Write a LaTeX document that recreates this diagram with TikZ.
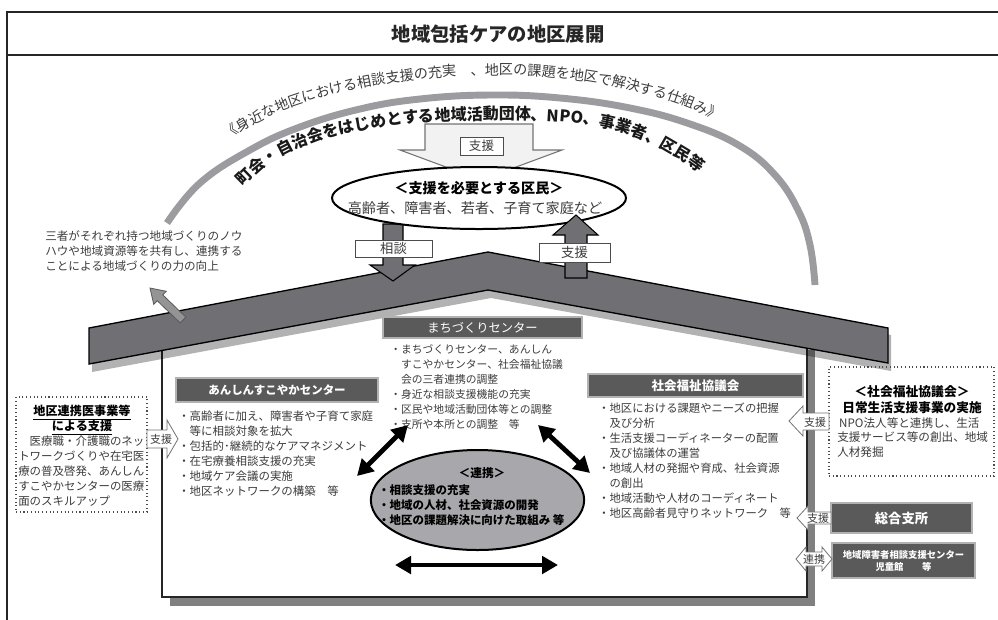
\documentclass[tikz,border=0pt]{standalone}
\usepackage{fontspec}
\setmainfont{Noto Sans CJK JP}
\usetikzlibrary{decorations.text,shapes.geometric,arrows.meta}
\definecolor{roofgray}{HTML}{707074}
\definecolor{hdrgray}{HTML}{5A5A5A}
\definecolor{arcgray}{HTML}{9C9CA0}
\definecolor{txtgray}{HTML}{3C3C3C}
\definecolor{ellgray}{HTML}{A8A8AC}
\definecolor{lightfill}{HTML}{F2F2F2}
\tikzset{
 lbl/.style={draw=black!70, fill=white, line width=0.6pt, inner sep=0pt, text=txtgray},
 hdr/.style={draw=black!30, fill=hdrgray, line width=0.8pt, text=white, inner sep=0pt},
 lst/.style={anchor=north west, align=left, inner sep=0pt, text=txtgray, font=\fontsize{8.6pt}{11.25pt}\selectfont},
 dbl/.style={line width=3.6pt, {Triangle[length=12pt,width=13pt]}-{Triangle[length=12pt,width=13pt]}},
 dotbox/.style={draw=black!70, dotted, line width=0.8pt, inner sep=0pt},
 blockw/.style={fill=white, draw=black!55, line width=0.6pt},
 sm/.style={font=\fontsize{8.2pt}{9pt}\selectfont, text=txtgray, inner sep=0pt}
}
\begin{document}
\begin{tikzpicture}[x=0.75pt,y=-0.75pt]
\useasboundingbox (0,0) rectangle (998,619);
% frame
\draw[line width=1.4pt, black!85] (7,625) -- (7,12) -- (1000,12);
\draw[line width=1.4pt, black!85] (7,55) -- (1000,55);
\node[font=\bfseries\fontsize{14.5pt}{16pt}\selectfont, text=black!85] (title) at (498,34) {地域包括ケアの地区展開};
% big arc
\draw[arcgray, line width=5.2pt] plot[smooth, tension=0.7] coordinates {(167,223) (200,183) (250,150) (300,127) (360,109) (420,99) (490,95) (560,98) (630,108) (690,124) (740,146) (775,175) (798,210) (810,245) (815,285)};
\path[decorate, decoration={text along path, text color=txtgray, text={|\fontsize{10.6pt}{11pt}\selectfont|《身近な地区における相談支援の充実　、地区の課題を地区で解決する仕組み》}}] plot[smooth, tension=0.7] coordinates {(228,140) (260,121) (300,104) (360,88) (420,79) (490,75) (560,78) (630,90) (690,108) (735,132) (770,160) (790,185)};
% house shadow and walls
\draw[black!50, line width=5.5pt] (170,602) -- (811,602) -- (811,350);
\draw[line width=1.3pt, black!85] (162,345) -- (162,597) -- (807,597) -- (807,340);
% roof
\fill[black, opacity=0.3] (92,335) -- (491,259) -- (891,335) -- (891,371) -- (491,298) -- (92,372) -- cycle;
\draw[fill=roofgray, line width=1pt] (89,328) -- (488,252) -- (888,328) -- (888,363) -- (488,290) -- (89,364) -- cycle;
% up-left gray arrow
\draw[fill=black!42, draw=black!65, line width=0.6pt] (185.8,317.1) -- (162.8,294.9) -- (166.3,291.3) -- (150,288) -- (153.7,304.3) -- (157.2,300.7) -- (180.2,322.9) -- cycle;
% top support arrow
\draw[fill=lightfill, draw=black!55, line width=0.8pt] (425,124) -- (533,124) -- (533,150) -- (562,150) -- (481,180) -- (400,150) -- (425,150) -- cycle;
\node[lbl, minimum width=32.25pt, minimum height=13.5pt, font=\fontsize{9.4pt}{10pt}\selectfont] (shien1) at (481.5,146) {支援};
% inner arc text
\path[decorate, decoration={text along path, text color=black!90, text={|\bfseries\fontsize{12pt}{12pt}\selectfont|町会・自治会をはじめとする地域活動団体、NPO、事業者、区民等}}] plot[smooth, tension=0.7] coordinates {(243,187) (268,165) (303,146) (352,132) (411,123) (481,120) (546,121) (601,127) (641,139) (671,154) (701,174) (721,195) (741,220)};
% soudan arrow
\draw[fill=roofgray, line width=0.8pt] (383,224) -- (403,224) -- (403,265) -- (415,265) -- (393,281) -- (370,265) -- (383,265) -- cycle;
\node[lbl, minimum width=57.75pt, minimum height=12.75pt, font=\fontsize{10pt}{10pt}\selectfont] (soudan) at (393.5,248.5) {相談};
% residents ellipse
\node[ellipse, draw, line width=1.5pt, fill=white, minimum width=220.5pt, minimum height=46.5pt] (kumin) at (479,198) {};
\node[font=\bfseries\fontsize{10.6pt}{12pt}\selectfont] (kumint) at (479,188) {＜支援を必要とする区民＞};
\node[font=\fontsize{10.6pt}{12pt}\selectfont, text=txtgray] (kumins) at (475,208) {高齢者、障害者、若者、子育て家庭など};
% support up arrow
\draw[fill=roofgray, line width=0.8pt] (565,278) -- (565,235) -- (553,235) -- (576,215) -- (598,235) -- (587,235) -- (587,278) -- cycle;
\node[lbl, minimum width=53.25pt, minimum height=14.25pt, font=\fontsize{10pt}{10pt}\selectfont] (shien2) at (574.5,252.5) {支援};
% left text
\node[lst, font=\fontsize{8.7pt}{11.25pt}\selectfont] (sansha) at (45,230) {三者がそれぞれ持つ地域づくりのノウ\\ハウや地域資源等を共有し、連携する\\ことによる地域づくりの力の向上};
% headers
\node[hdr, minimum width=151.5pt, minimum height=18pt, font=\bfseries\fontsize{8.6pt}{10pt}\selectfont] (anshin) at (277,390) {あんしんすこやかセンター};
\node[hdr, minimum width=149.25pt, minimum height=15.75pt, font=\fontsize{9.2pt}{10pt}\selectfont] (machi) at (482.5,327.5) {まちづくりセンター};
\node[hdr, minimum width=161.25pt, minimum height=17.25pt, font=\bfseries\fontsize{9.4pt}{10pt}\selectfont] (shakyo) at (695.5,385.5) {社会福祉協議会};
% lists
\node[lst] (anshinl) at (178,411) {・高齢者に加え、障害者や子育て家庭\\\phantom{・}等に相談対象を拡大\\・包括的･継続的なケアマネジメント\\・在宅療養相談支援の充実\\・地域ケア会議の実施\\・地区ネットワークの構築　等};
\node[lst, font=\fontsize{8.1pt}{11.25pt}\selectfont] (machil) at (390,344) {・まちづくりセンター、あんしん\\\phantom{・}すこやかセンター、社会福祉協議\\\phantom{・}会の三者連携の調整\\・身近な相談支援機能の充実\\・区民や地域活動団体等との調整\\・支所や本所との調整　等};
\node[lst, font=\fontsize{8.5pt}{11.25pt}\selectfont] (shakyol) at (598,403) {・地区における課題やニーズの把握\\\phantom{・}及び分析\\・生活支援コーディネーターの配置\\\phantom{・}及び協議体の運営\\・地域人材の発掘や育成、社会資源\\\phantom{・}の創出\\・地域活動や人材のコーディネート\\・地区高齢者見守りネットワーク　等};
% renkei ellipse
\node[ellipse, draw, line width=1.5pt, fill=ellgray, minimum width=160pt, minimum height=75pt] (renkei) at (477.5,500) {};
\node[font=\bfseries\fontsize{8.8pt}{10pt}\selectfont] (renkeit) at (482,473) {＜連携＞};
\node[lst, text=black, font=\bfseries\fontsize{8.6pt}{11.25pt}\selectfont] (renkeil) at (378,484) {・相談支援の充実\\・地域の人材、社会資源の開発\\・地区の課題解決に向けた取組み 等};
% black double arrows
\coordinate (a1s) at (357,476); \coordinate (a1e) at (408,425);
\coordinate (a2s) at (538,425); \coordinate (a2e) at (590,473);
\coordinate (a3s) at (395,565); \coordinate (a3e) at (558,565);
\draw[dbl] (a1s) -- (a1e);
\draw[dbl] (a2s) -- (a2e);
\draw[dbl] (a3s) -- (a3e);
% left dotted box
\node[dotbox, minimum width=98.25pt, minimum height=86.25pt] (renkeii) at (81.5,454.5) {};
\node[font=\bfseries\fontsize{9.1pt}{11.25pt}\selectfont, align=center, inner sep=0pt] (renkeiit) at (82,420) {\underline{地区連携医事業等}\\\underline{による支援}};
\node[lst] (renkeiib) at (18,436) {\phantom{・}医療職・介護職のネッ\\トワークづくりや在宅医\\療の普及啓発、あんしん\\すこやかセンターの医療\\面のスキルアップ};
\draw[blockw] (147,430) -- (167,430) -- (167,420) -- (178,439) -- (167,458) -- (167,448) -- (147,448) -- cycle;
\node[sm] (shienL) at (161,439) {支援};
% right dotted box
\node[dotbox, minimum width=123.75pt, minimum height=81.75pt] (shakyob) at (911.5,421.5) {};
\node[font=\bfseries\fontsize{9.6pt}{11pt}\selectfont] (shakyobt1) at (912,392) {＜社会福祉協議会＞};
\node[font=\bfseries\fontsize{9.5pt}{11pt}\selectfont] (shakyobt2) at (912,408) {日常生活支援事業の実施};
\node[lst, font=\fontsize{8.7pt}{10.9pt}\selectfont] (shakyobb) at (837,417) {\,NPO法人等と連携し、生活\\支援サービス等の創出、地域\\人材発掘};
\draw[blockw] (829,413) -- (803,413) -- (803,406) -- (789,421) -- (803,436) -- (803,430) -- (829,430) -- cycle;
\node[sm] (shienR1) at (815,422) {支援};
% sogo shisho
\node[hdr, minimum width=105.75pt, minimum height=22.5pt, font=\bfseries\fontsize{10pt}{11pt}\selectfont] (sogo) at (901.5,518) {総合支所};
\draw[blockw] (831,512) -- (808,512) -- (808,506) -- (797,518) -- (808,530) -- (808,524) -- (831,524) -- cycle;
\node[sm] (shienR2) at (818,518) {支援};
% shogaisha center
\node[hdr, minimum width=107.25pt, minimum height=26.25pt, align=center, font=\bfseries\fontsize{7pt}{9pt}\selectfont] (shogai) at (903.5,560.5) {地域障害者相談支援センター\\児童館　　等};
\draw[blockw] (796,559) -- (806,547) -- (806,552) -- (822,552) -- (822,547) -- (832,559) -- (822,571) -- (822,566) -- (806,566) -- (806,571) -- cycle;
\node[sm] (renkeiR) at (814,559) {連携};
\end{tikzpicture}
\end{document}
